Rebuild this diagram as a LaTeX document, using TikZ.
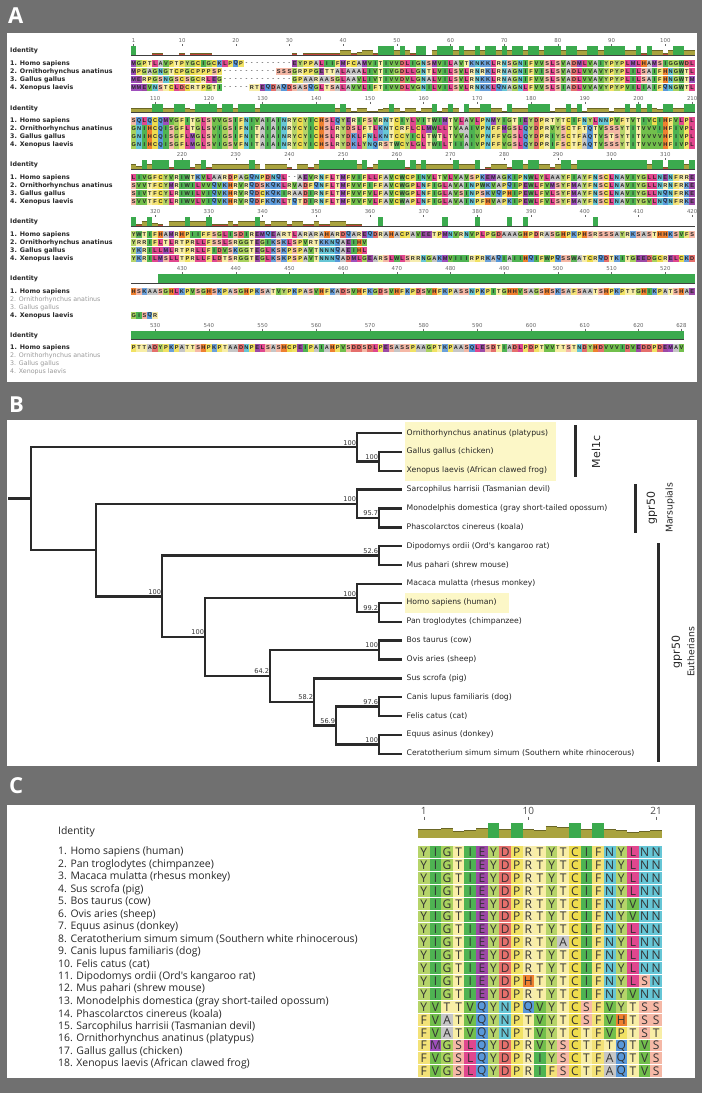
\documentclass[tikz,border=0pt]{standalone}
\usepackage{fontspec}
\setmainfont{DejaVu Sans}
\newfontfamily\osans{Open Sans}
\newfontfamily\dvs{DejaVu Sans}
\newfontfamily\libs{Liberation Sans}

\definecolor{bggray}{HTML}{707070}
\definecolor{idgreen}{HTML}{3BAA4E}
\definecolor{idolive}{HTML}{A9A33F}
\definecolor{idoliveedge}{HTML}{6A6626}
\definecolor{idred}{HTML}{C0443A}
\definecolor{hlyellow}{HTML}{FCF7C7}
\definecolor{treeline}{HTML}{2A2A2A}
\definecolor{aaA}{HTML}{C6C6C6}
\definecolor{aaC}{HTML}{EEDC4E}
\definecolor{aaD}{HTML}{E56F6C}
\definecolor{aaE}{HTML}{9C49A6}
\definecolor{aaF}{HTML}{F3E278}
\definecolor{aaG}{HTML}{A9D25E}
\definecolor{aaH}{HTML}{EE8030}
\definecolor{aaI}{HTML}{4EB352}
\definecolor{aaK}{HTML}{6AA0DA}
\definecolor{aaL}{HTML}{E0478E}
\definecolor{aaM}{HTML}{9E4FBC}
\definecolor{aaN}{HTML}{66C6D6}
\definecolor{aaP}{HTML}{F1E264}
\definecolor{aaQ}{HTML}{5898DA}
\definecolor{aaR}{HTML}{F6ECAE}
\definecolor{aaS}{HTML}{F5B8A6}
\definecolor{aaT}{HTML}{F8EEA6}
\definecolor{aaV}{HTML}{72BF4C}
\definecolor{aaW}{HTML}{5DB55A}
\definecolor{aaY}{HTML}{B6D46A}

\newcount\colidx \newcount\npairs \newcount\nident \newcount\npresent
\newcount\absn \newcount\tmpn \newcount\ccol
\def\dotch{.}
\def\dashch{-}
\def\splitfirst#1#2\stopmark{\def\firstch{#1}\def\restch{#2}}
\def\takefirst#1#2{\ifx#1\empty\def#2{.}\else\expandafter\splitfirst#1\stopmark\let#2\firstch\let#1\restch\fi}
\def\cmppair#1#2{%
  \ifx#1\dotch\else\ifx#2\dotch\else
    \ifx#1\dashch
      \ifx#2\dashch\else\advance\npairs by 1\relax\fi
    \else
      \advance\npairs by 1\relax
      \ifx#1#2\advance\nident by 1\relax\fi
    \fi
  \fi\fi}
\def\cntpresent#1{\ifx#1\dotch\else\ifx#1\dashch\else\advance\npresent by 1\relax\fi\fi}
\def\acell#1#2{%
  \ifx#1\dotch\else
    \ifx#1\dashch
      \node[aadash] at (\xc,#2) {-};
    \else
      \edef\tmpcol{aa#1}%
      \fill[fill=\tmpcol] ({\xc-2.685},{#2-3.6}) rectangle ({\xc+2.685},{#2+3.6});
      \node[aares] at (\xc,#2) {#1};
    \fi
  \fi}
\def\rulermark{\node[rulernum] at (\xc,{\ry-1}) {\the\absn};
  \draw[rulertick] (\xc,{\ry+2.2}) -- (\xc,{\ry+4.2});}
\newcommand\alnrow[7]{%
  \def\sA{#4}\def\sB{#5}\def\sC{#6}\def\sD{#7}%
  \pgfmathsetmacro\ry{#1}%
  \pgfmathsetmacro\barbot{#1+13}%
  \pgfmathsetmacro\yA{#1+21.5}\pgfmathsetmacro\yB{#1+29.5}%
  \pgfmathsetmacro\yC{#1+37.5}\pgfmathsetmacro\yD{#1+45.5}%
  \colidx=0
  \loop
    \advance\colidx by 1\relax
    \takefirst\sA\cA\takefirst\sB\cB\takefirst\sC\cC\takefirst\sD\cD
    \pgfmathsetmacro\xc{131+(\the\colidx-0.5)*5.37}%
    \absn=\numexpr#3+\colidx-1\relax
    \tmpn=\absn \divide\tmpn by 10 \multiply\tmpn by 10
    \ifnum\tmpn=\absn \rulermark\fi
    \ifnum\absn=1 \rulermark\fi
    \ifnum\absn=628 \rulermark\fi
    \npairs=0 \nident=0 \npresent=0
    \cmppair\cA\cB\cmppair\cA\cC\cmppair\cA\cD\cmppair\cB\cC\cmppair\cB\cD\cmppair\cC\cD
    \cntpresent\cA\cntpresent\cB\cntpresent\cC\cntpresent\cD
    \def\barh{0}%
    \ifnum\npairs=0
      \ifnum\npresent>0 \def\barh{9}\def\barc{idgreen}\fi
    \else
      \ifnum\nident=\npairs \def\barh{9}\def\barc{idgreen}%
      \else\ifnum\nident>0
        \pgfmathsetmacro\barh{9*\the\nident/\the\npairs}%
        \ifnum\numexpr10*\nident\relax<\numexpr3*\npairs\relax\def\barc{idred}\else\def\barc{idolive}\fi
      \fi\fi
    \fi
    \ifdim\barh pt>0pt
      \fill[fill=\barc] ({\xc-2.685},\barbot) rectangle ({\xc+2.685},{\barbot-\barh});
      \ifdim\barh pt<9pt
        \draw[baredge] ({\xc-2.685},{\barbot-\barh}) -- ({\xc+2.685},{\barbot-\barh});
      \fi
    \fi
    \acell\cA\yA \acell\cB\yB \acell\cC\yC \acell\cD\yD
  \ifnum\colidx<#2 \repeat
  \draw[idbase] (131,\barbot) -- ({131+#2*5.37},\barbot);
}
\newcommand\alnlabels[4]{%
  \node[albl] at (10,{#1+9}) {Identity};
  \node[albl] at (10,{#1+21.5}) {1. Homo sapiens};
  \node[#2] at (10,{#1+29.5}) {2. Ornithorhynchus anatinus};
  \node[#3] at (10,{#1+37.5}) {3. Gallus gallus};
  \node[#4] at (10,{#1+45.5}) {4. Xenopus laevis};}
\def\Cloop#1{\ifx#1\stopmark\else\Ccell#1\expandafter\Cloop\fi}
\def\Ccell#1{\advance\ccol by 1\relax
  \edef\tmpcol{aa#1}%
  \pgfmathsetmacro\cx{418+(\the\ccol-1)*11.62}%
  \fill[fill=\tmpcol] (\cx,\cytop) rectangle ({\cx+11.62},{\cytop+11.9});
  \node[cres] at ({\cx+5.81},{\cytop+6.2}) {#1};}

\begin{document}
\begin{tikzpicture}[x=1pt,y=-1pt,
  every node/.style={inner sep=0pt},
  panellbl/.style={anchor=west, font=\fontsize{22}{22}\osans\bfseries, text=white},
  albl/.style={anchor=west, font=\fontsize{6.3}{7}\dvs\bfseries, text=black!85},
  alblg/.style={anchor=west, font=\fontsize{6.3}{7}\dvs, text=black!40},
  aares/.style={font=\fontsize{5.6}{6}\libs\bfseries, text=black!85},
  aadash/.style={font=\fontsize{5.6}{6}\libs\bfseries, text=black!70},
  rulernum/.style={font=\fontsize{5.4}{6}\dvs, text=black!60},
  rulertick/.style={draw=black!60, line width=0.4pt},
  idbase/.style={draw=black!75, line width=0.6pt},
  baredge/.style={draw=idoliveedge, line width=0.5pt},
  tree/.style={draw=treeline, line width=2.4pt, line join=miter},
  bs/.style={anchor=south east, font=\fontsize{6.6}{7}\dvs, text=black!80, inner xsep=0.8pt, inner ysep=1.8pt},
  leaf/.style={anchor=west, inner xsep=4.5pt, text height=5.6pt, text depth=1.6pt, font=\fontsize{7.7}{9}\dvs, text=black!85},
  cladebar/.style={draw=treeline, line width=3pt},
  cladetxt/.style={rotate=90, font=\fontsize{11}{12}\dvs, text=black!85},
  cladesub/.style={rotate=90, font=\fontsize{9.3}{10}\dvs, text=black!85},
  clbl/.style={anchor=west, font=\fontsize{10.4}{12}\osans, text=black!85},
  cres/.style={font=\fontsize{12}{12}\osans, text=black!80},
  cnum/.style={font=\fontsize{10}{10}\osans, text=black!70}
]
\useasboundingbox (0,0) rectangle (702,1093);
\fill[bggray] (0,0) rectangle (702,1093);
\fill[white] (7,33) rectangle (697,382);
\fill[white] (7,420) rectangle (697,766);
\fill[white] (7,805) rectangle (695,1078);
\node[panellbl] (pA) at (8,15.5) {A};
\node[panellbl] (pB) at (9,404.5) {B};
\node[panellbl] (pC) at (9,786) {C};

% ---------------- Panel A ----------------
\alnlabels{42}{albl}{albl}{albl}
\alnrow{42}{105}{1}
 {MGPTLAVPTPYGCIGCKLPQP---------EYPPALIIFMFCAMVITIVVDLIGNSMVILAVTKNKKLRNSGNIFVVSLSVADMLVAIYPYPLMLHAMSIGGWDL}
 {MPGAGNGTCPGCPPPSP----------SSSGRPPGETTALAAALIVTIVGDLLGNTLVILSVLRNRKLRNAGNIFVISLSVADLVVAVYPYPLILSAIFHNGWTL}
 {MERPGSNGSCSGCRLEG-------------GPAARAASGLAAVLIVTIVVDVLGNALVILSVLRNKKLRNAGNIFVVSLSVADLVVAVYPYPLILSAIFHNGWTM}
 {MMEVNSTCLDCRTPGTI-----RTEQDAQDSASQGLTSALAVVLIFTIVVDLVGNILVILSVLRNKKLQNAGNLFVVSLSIADLVVAVYPYPVILIAIFQNGWTL}
\alnlabels{99.5}{albl}{albl}{albl}
\alnrow{99.5}{105}{106}
 {SQLQCQMVGFITGLSVVGSIFNIVAIAINRYCYICHSLQYERIFSVRNTCIYLVITWIMTVLAVLPNMYIGTIEYDPRTYTCIFNYLNNPVFTVTIVCIHFVLPL}
 {GNIHCQISGFLTGLSVIGSIFNITAIAINRYCYICHSLRYDSLFTLKNTCRFLCLMWLLTVAAIVPNFFMGSLQYDPRVYSCTFTQTVSSSYTITVVVIHFIVPL}
 {GNIHCQISGFLMGLSVIGSIFNITAIAINRYCYICHSLRYDKLFNLKNTCCYICLTWTLTVVAIVPNFFVGSLQYDPRIYSCTFAQTVSTSYTITVVVVHFIVPL}
 {GNIHCQISGFLMGLSVIGSVFNITAIAINRYCYICHSLRYDKLYNQRSTWCYLGLTWILTIIAIVPNFFVGSLQYDPRIFSCTFAQTVSSSYTITVVVVHFIVPL}
\alnlabels{156}{albl}{albl}{albl}
\alnrow{156}{105}{211}
 {LIVGFCYVRIWTKVLAARDPAGQNPDNQL--AEVRNFLTMFVIFLLFAVCWCPINVLTVLVAVSPKEMAGKIPNWLYLAAYFIAYFNSCLNAVIYGLLNENFRRE}
 {SVVTFCYMRIWILVVQVKHRVRQDSKQKLRVADFQNFLTMFVVFIFFAVCWGPLNFIGLAVAINPWKVAPQIPEWLFVMSYFMAYFNSCLNAVIYGLLNRNFRKE}
 {SIVTFCYLRIWILVIQVKHRVRQDCKQKIRAADIRNFLTMFVVFVLFAVCWGPLNFIGLAVSINPSKVQPHIPEWLFVLSYFMAYFNSCLNAVIYGLLNQNFRKE}
 {SVVTFCYLRIWVLVIQVKHRVRQDFKQKLTQTDIRNFLTMFVVFVLFAVCWAPLNFIGLAVAINPFHVAPKIPEWLFVLSYFMAYFNSCLNAVIYGVLNQNFRKE}
\alnlabels{213}{albl}{albl}{albl}
\alnrow{213}{105}{316}
 {YWTIFHAMRHPIIFFSGLISDIREMQEARTLARARAHARDQAREQDRAHACPAVEETPMNVRNVPLPGDAAAGHPDRASGHPKPHSRSSSAYRKSASTHHKSVFS}
 {YRRIFLTLRTPRLLFSSLSRGGTEGIKSKLSPVRTKKNQAEIHV}
 {YKRILLMLRTPRLLFIDVSKGGTEGLKSKPSPAVTNNNQAEIHL}
 {YKRILMSLLTPRLLFLDTSRGGTEGLKSKPSPAVTNNNQADMLGEARSLWLSRRNGAKMVIIIRPRKAQIAIIHQIFWPQSSWATCRQDTKITGEEDGCRELCKD}
\alnlabels{270}{alblg}{alblg}{albl}
\alnrow{270}{105}{421}
 {HSKAASGHLKPVSGHSKPASGHPKSATVYPKPASVHFKADSVHFKGDSVHFKPDSVHFKPASSNPKPITGHHVSAGSHSKSAFSAATSHPKPTTGHIKPATSHAE}
 {}{}{GISQR}
\alnlabels{326.5}{alblg}{alblg}{alblg}
\alnrow{326.5}{103}{526}
 {PTTADYPKPATTSHPKPTAADNPELSASHCPEIPAIAHPVSDDSDLPESASSPAAGPTKPAASQLESDTIADLPDPTVVTTSTNDYHDVVVIDVEDDPDEMAV}
 {}{}{}

% ---------------- Panel B ----------------
\fill[hlyellow] (405,422) rectangle (556,481);
\fill[hlyellow] (405,593) rectangle (509,613);
\foreach \t [count=\i] in {Ornithorhynchus anatinus (platypus),Gallus gallus (chicken),Xenopus laevis (African clawed frog),Sarcophilus harrisii (Tasmanian devil),Monodelphis domestica (gray short-tailed opossum),Phascolarctos cinereus (koala),Dipodomys ordii (Ord's kangaroo rat),Mus pahari (shrew mouse),Macaca mulatta (rhesus monkey),Homo sapiens (human),Pan troglodytes (chimpanzee),Bos taurus (cow),Ovis aries (sheep),Sus scrofa (pig),Canis lupus familiaris (dog),Felis catus (cat),Equus asinus (donkey),Ceratotherium simum simum (Southern white rhinocerous)}
  {\node[leaf] (L\i) at (402,{433+(\i-1)*18.87}) {\t};}
\coordinate (r0) at (8,498.6);
\coordinate (nR) at (31,498.6);
\coordinate (nM) at (357,447.15);
\coordinate (nGX) at (379,461.3);
\coordinate (nG) at (96,550.05);
\coordinate (nMa) at (357,503.76);
\coordinate (nMP) at (379,517.92);
\coordinate (nE) at (162,596.35);
\coordinate (nDM) at (379,555.66);
\coordinate (nE2) at (205,637.03);
\coordinate (nPr) at (357,598.11);
\coordinate (nHP) at (379,612.27);
\coordinate (n64) at (270,675.95);
\coordinate (nBO) at (379,650.0);
\coordinate (n58) at (314,701.9);
\coordinate (n56) at (336,725.48);
\coordinate (nCF) at (379,706.6);
\coordinate (nEC) at (379,744.36);
\draw[tree] (r0) -- (nR);
\draw[tree] (nR) |- (nM);  \draw[tree] (nR) |- (nG);
\draw[tree] (nM) |- (L1.west); \draw[tree] (nM) |- (nGX);
\draw[tree] (nGX) |- (L2.west); \draw[tree] (nGX) |- (L3.west);
\draw[tree] (nG) |- (nMa); \draw[tree] (nG) |- (nE);
\draw[tree] (nMa) |- (L4.west); \draw[tree] (nMa) |- (nMP);
\draw[tree] (nMP) |- (L5.west); \draw[tree] (nMP) |- (L6.west);
\draw[tree] (nE) |- (nDM); \draw[tree] (nE) |- (nE2);
\draw[tree] (nDM) |- (L7.west); \draw[tree] (nDM) |- (L8.west);
\draw[tree] (nE2) |- (nPr); \draw[tree] (nE2) |- (n64);
\draw[tree] (nPr) |- (L9.west); \draw[tree] (nPr) |- (nHP);
\draw[tree] (nHP) |- (L10.west); \draw[tree] (nHP) |- (L11.west);
\draw[tree] (n64) |- (nBO); \draw[tree] (n64) |- (n58);
\draw[tree] (nBO) |- (L12.west); \draw[tree] (nBO) |- (L13.west);
\draw[tree] (n58) |- (L14.west); \draw[tree] (n58) |- (n56);
\draw[tree] (n56) |- (nCF); \draw[tree] (n56) |- (nEC);
\draw[tree] (nCF) |- (L15.west); \draw[tree] (nCF) |- (L16.west);
\draw[tree] (nEC) |- (L17.west); \draw[tree] (nEC) |- (L18.west);
\node[bs] (bM) at (nM) {100};
\node[bs] (bGX) at (nGX) {100};
\node[bs] (bMa) at (nMa) {100};
\node[bs] (bMP) at (nMP) {95.7};
\node[bs] (bE) at (nE) {100};
\node[bs] (bDM) at (nDM) {52.6};
\node[bs] (bE2) at (nE2) {100};
\node[bs] (bPr) at (nPr) {100};
\node[bs] (bHP) at (nHP) {99.2};
\node[bs] (b64) at (n64) {64.2};
\node[bs] (bBO) at (nBO) {100};
\node[bs] (b58) at (n58) {58.2};
\node[bs] (b56) at (n56) {56.9};
\node[bs] (bCF) at (nCF) {97.6};
\node[bs] (bEC) at (nEC) {100};
\draw[cladebar] (575,425) -- (575,477);
\draw[cladebar] (635,484) -- (635,533);
\draw[cladebar] (658,543) -- (658,762);
\node[cladetxt] (tMel) at (596,452) {Mel1c};
\node[cladetxt] (tgM) at (652,508) {gpr50};
\node[cladesub] (tMa) at (670,508) {Marsupials};
\node[cladetxt] (tgE) at (677,652) {gpr50};
\node[cladesub] (tEu) at (691,652) {Eutherians};

% ---------------- Panel C ----------------
\node[clbl] (cId) at (58,832) {Identity};
\foreach \t [count=\i] in {Homo sapiens (human),Pan troglodytes (chimpanzee),Macaca mulatta (rhesus monkey),Sus scrofa (pig),Bos taurus (cow),Ovis aries (sheep),Equus asinus (donkey),Ceratotherium simum simum (Southern white rhinocerous),Canis lupus familiaris (dog),Felis catus (cat),Dipodomys ordii (Ord's kangaroo rat),Mus pahari (shrew mouse),Monodelphis domestica (gray short-tailed opossum),Phascolarctos cinereus (koala),Sarcophilus harrisii (Tasmanian devil),Ornithorhynchus anatinus (platypus),Gallus gallus (chicken),Xenopus laevis (African clawed frog)}
  {\node[clbl] (C\i) at (58,{852+(\i-1)*12.47}) {\i. \t};}
\foreach \h/\c [count=\i] in {0.6/idolive,0.6/idolive,0.62/idolive,0.45/idolive,0.5/idolive,0.65/idolive,1/idgreen,0.6/idolive,1/idgreen,0.55/idolive,0.5/idolive,0.78/idolive,0.73/idolive,1/idgreen,0.6/idolive,1/idgreen,0.55/idolive,0.5/idolive,0.38/idolive,0.44/idolive,0.5/idolive}
  {\fill[fill=\c] ({418+(\i-1)*11.62},838) rectangle ({418+\i*11.62},{838-15*\h});
   \ifdim\h pt<1pt \draw[baredge, line width=0.9pt] ({418+(\i-1)*11.62},{838-15*\h}) -- ({418+\i*11.62},{838-15*\h});\fi}
\foreach \n/\c in {1/1,10/10,21/21}
  {\node[cnum] at ({418+(\c-0.5)*11.62},811) {\n};
   \draw[rulertick] ({418+(\c-0.5)*11.62},816.5) -- ({418+(\c-0.5)*11.62},819.5);}
\foreach \s [count=\r] in {YIGTIEYDPRTYTCIFNYLNN,YIGTIEYDPRTYTCIFNYLNN,YIGTIEYDPRTYTCIFNYLNN,YIGTIEYDPRTYTCIFNYLNN,YIGTIEYDPRTYTCIFNYVNN,YIGTIEYDPRTYTCIFNYVNN,YIGTIEYDPRTYTCIFNYLNN,YIGTIEYDPRTYACIFNYLNN,YIGTIEYDPRTYTCIFNYLNN,YIGTIEYDPRTYTCIFNYLNN,YIGTIEYDPHTYTCIFNYLSN,YIGTIEYDPRTYTCIFNYVNN,YVTTVQYNPQVYTCSFVYTSS,FVATVQYNPTVYTCSFVHTSS,FVATVQYNPTVYTCTFVPTST,FMGSLQYDPRVYSCTFTQTVS,FVGSLQYDPRIYSCTFAQTVS,FVGSLQYDPRIFSCTFAQTVS}
  {\pgfmathsetmacro\cytop{846+(\r-1)*12.9}\ccol=0 \expandafter\Cloop\s\stopmark}
\end{tikzpicture}
\end{document}
